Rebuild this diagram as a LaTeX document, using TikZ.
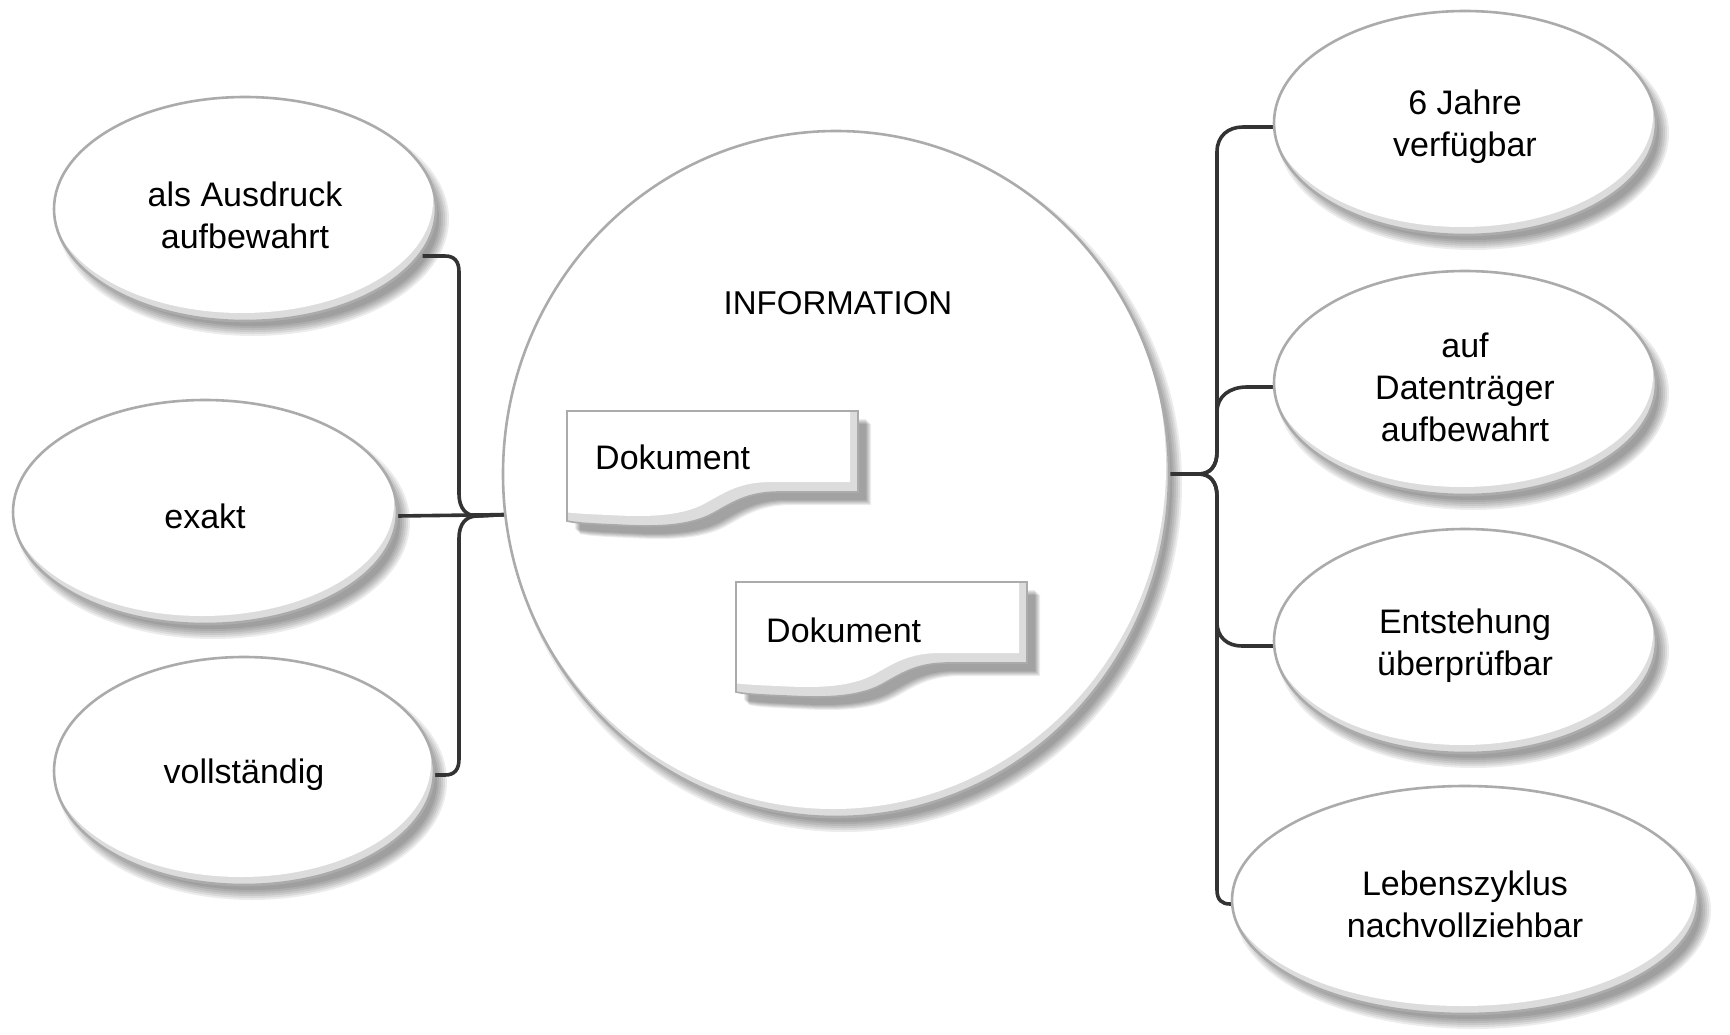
\documentclass[tikz,border=0pt]{standalone}
\usepackage{fontspec}
\setmainfont{Liberation Sans}
\usetikzlibrary{shapes.geometric}
\pgfdeclarelayer{bgl}
\pgfdeclarelayer{shadowl}
\pgfdeclarelayer{connl}
\pgfdeclarelayer{bodyl}
\pgfdeclarelayer{docshadowl}
\pgfdeclarelayer{docbodyl}
\pgfsetlayers{bgl,shadowl,connl,bodyl,docshadowl,docbodyl,main}
\definecolor{edgegray}{HTML}{ABABAB}
\definecolor{conncol}{HTML}{333333}
\definecolor{bevelcol}{HTML}{DCDCDC}
\tikzset{
  bubble/.style={ellipse, inner sep=0pt, outer sep=0pt, align=center,
    font=\fontsize{34}{42}\selectfont},
  linkline/.style={draw=conncol, line width=3.6pt},
  doctext/.style={anchor=west, inner sep=0pt, font=\fontsize{34}{40}\selectfont},
  titletext/.style={inner sep=0pt, font=\fontsize{33}{40}\selectfont},
}
% cx, cy, rx, ry
\newcommand\bubbleshape[4]{%
  \begin{pgfonlayer}{shadowl}
    \foreach \k in {0,...,5}
      \fill[black, opacity=0.075] (#1+8,#2+10) ellipse [x radius=#3+5-2*\k, y radius=#4+5-2*\k];
  \end{pgfonlayer}
  \begin{pgfonlayer}{bodyl}
    \begin{scope}
      \clip (#1,#2) ellipse [x radius=#3, y radius=#4];
      \fill[bevelcol] (#1,#2) ellipse [x radius=#3, y radius=#4];
      \fill[white] (#1-3,#2-8) ellipse [x radius=#3, y radius=#4];
    \end{scope}
    \draw[edgegray, line width=2.6pt] (#1,#2) ellipse [x radius=#3, y radius=#4];
  \end{pgfonlayer}}
\newcommand\docpathA{(0,0) -- (291,0) -- (291,81) -- (212,81) .. controls (180,81) and (165,92) .. (145,103) .. controls (120,116) and (85,116) .. (50,114) .. controls (25,113) and (8,112) .. (0,110) -- cycle}
\newcommand\docshape[2]{%
  \begin{pgfonlayer}{docshadowl}
    \foreach \k in {0,...,5}
      \fill[black, opacity=0.07, shift={(#1+13-\k,#2+13-\k)}] \docpathA;
  \end{pgfonlayer}
  \begin{pgfonlayer}{docbodyl}
    \begin{scope}[shift={(#1,#2)}]
      \begin{scope}
        \clip \docpathA;
        \fill[bevelcol] \docpathA;
        \begin{scope}[shift={(-8,-10)}]
          \fill[white] \docpathA;
        \end{scope}
      \end{scope}
      \draw[edgegray, line width=1.6pt] \docpathA;
    \end{scope}
  \end{pgfonlayer}}
\begin{document}
\begin{tikzpicture}[x=1pt, y=-1pt]
\begin{pgfonlayer}{bgl}
  \fill[white] (0,0) rectangle (1730,1034);
\end{pgfonlayer}
\useasboundingbox (0,0) rectangle (1730,1034);

% central circle
\bubbleshape{836}{474}{333}{343}
\node[ellipse, inner sep=0pt, outer sep=0pt, minimum width=666pt, minimum height=686pt] (core) at (836,474) {};
\node[titletext] (info) at (838,303) {INFORMATION};

% documents
\docshape{567}{411}
\node[doctext] (doc1) at (595,457) {Dokument};
\docshape{736}{582}
\node[doctext] (doc2) at (766,630) {Dokument};

% left bubbles
\bubbleshape{245}{209}{191}{112}
\node[bubble, minimum width=382pt, minimum height=224pt] (L1) at (245,215) {als Ausdruck\\aufbewahrt};
\bubbleshape{205}{512}{192}{112}
\node[bubble, minimum width=384pt, minimum height=224pt] (L2) at (205,516) {exakt};
\bubbleshape{244}{771}{190}{114}
\node[bubble, minimum width=380pt, minimum height=228pt] (L3) at (244,775) {vollständig};

% right bubbles
\bubbleshape{1465}{123}{191}{112}
\node[bubble, minimum width=382pt, minimum height=224pt] (R1) at (1465,127) {6 Jahre\\verfügbar};
\bubbleshape{1465}{383}{191}{112}
\node[bubble, minimum width=382pt, minimum height=224pt] (R2) at (1465,387) {auf\\Datenträger\\aufbewahrt};
\bubbleshape{1465}{641}{191}{112}
\node[bubble, minimum width=382pt, minimum height=224pt] (R3) at (1465,646) {Entstehung\\überprüfbar};
\bubbleshape{1465}{900}{233}{114}
\node[bubble, minimum width=466pt, minimum height=228pt] (R4) at (1465,904) {Lebenszyklus\\nachvollziehbar};

% connectors
\begin{pgfonlayer}{connl}
  % left side
  \draw[linkline] (L1.-13) -- (445,256) .. controls (455,256) and (459,262) .. (459,272)
     -- (459,494) .. controls (459,508) and (466,516) .. (477,516) -- (core.187);
  \draw[linkline] (L2.east) -- (core.187);
  \draw[linkline] (L3.east) -- (445,775) .. controls (455,775) and (459,769) .. (459,759)
     -- (459,538) .. controls (459,524) and (466,516) .. (477,516) -- (core.187);
  % right side
  \draw[linkline] (R1.west) -- (1243,127) .. controls (1228,127) and (1217,136) .. (1217,152)
     -- (1217,452) .. controls (1217,466) and (1210,474) .. (1199,474) -- (core.east);
  \draw[linkline] (R2.west) -- (1247,387) .. controls (1230,387) and (1217,396) .. (1217,412)
     -- (1217,452) .. controls (1217,466) and (1210,474) .. (1199,474) -- (core.east);
  \draw[linkline] (R3.west) -- (1242,646) .. controls (1228,646) and (1217,638) .. (1217,622)
     -- (1217,496) .. controls (1217,482) and (1210,474) .. (1199,474) -- (core.east);
  \draw[linkline] (R4.west) -- (1230,904) .. controls (1222,904) and (1217,900) .. (1217,890)
     -- (1217,496) .. controls (1217,482) and (1210,474) .. (1199,474) -- (core.east);
\end{pgfonlayer}
\end{tikzpicture}
\end{document}
